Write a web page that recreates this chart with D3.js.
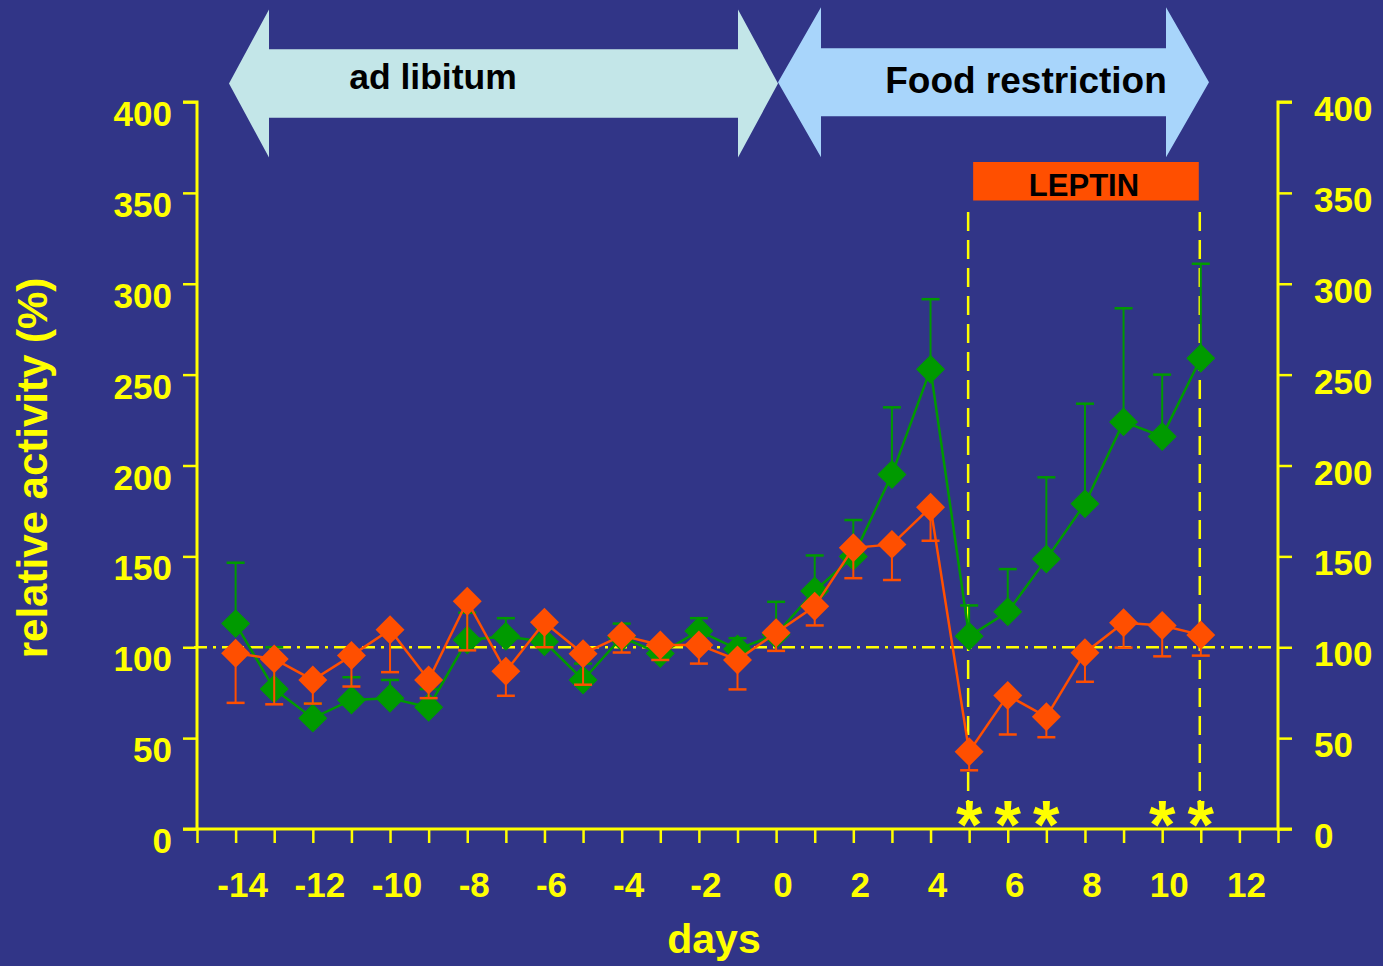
<!DOCTYPE html>
<html>
<head>
<meta charset="utf-8">
<script src="https://cdn.jsdelivr.net/npm/d3@7/dist/d3.min.js"></script>
<style>
  html, body { margin: 0; padding: 0; background: #313587; }
  svg { display: block; }
  text { font-family: "Liberation Sans", Arial, Helvetica, sans-serif; font-weight: bold; }
</style>
</head>
<body>
<svg id="chart" width="1383" height="966"></svg>
<script>
// Daily activity relative to baseline (%), mean and SEM per day
const days = [-14, -13, -12, -11, -10, -9, -8, -7, -6, -5, -4, -3, -2, -1,
              0, 1, 2, 3, 4, 5, 6, 7, 8, 9, 10, 11];

const vehicleMean = [113, 77, 61, 71, 72, 67, 104, 106, 103, 82, 105.5, 96.5, 109, 99,
                     107, 131, 150, 195, 253, 106, 119.5, 148.5, 179, 224, 216, 259];
const vehicleSem  = [33.5, 23, 8, 12.5, 10, 10, 15, 10, 7, 9, 7.5, 4, 7, 6,
                     18, 19.5, 20, 37, 38.5, 17, 23.5, 45, 55, 62.5, 34, 52];

const leptinMean = [96.7, 93.6, 82, 95.4, 109.6, 82, 125.3, 86.8, 113.7, 96.4, 106.4, 101.3, 101.3, 93,
                    108, 122.5, 154.7, 156.6, 177, 42.5, 73.5, 61.7, 97, 113.5, 112, 106.8];
const leptinSem  = [27.3, 25, 13, 17, 23.3, 10, 27, 13.5, 13.7, 17, 9.3, 8.3, 10.3, 16.2,
                    10, 10.5, 16.7, 19.6, 18.4, 10.2, 21.5, 11.2, 16, 13.7, 17, 11.4];

const yTicks = [0, 50, 100, 150, 200, 250, 300, 350, 400];
const xTickLabels = [-14, -12, -10, -8, -6, -4, -2, 0, 2, 4, 6, 8, 10, 12];
const significantDays = [5, 6, 7, 10, 11];
const leptinWindow = [5, 11];
const baselineLevel = 100;

const YELLOW = "#ffff00";
const GREEN = "#009a00";
const ORANGE = "#ff4f00";

const svg = d3.select("#chart");

const x = d3.scaleLinear().domain([-15, 13]).range([197, 1278]);
const y = d3.scaleLinear().domain([0, 400]).range([829, 102]);

// ---- phase arrows -------------------------------------------------------
function doubleArrow(x0, x1, headLen, cy, shaftHalf, headHalf) {
  return [
    [x0, cy], [x0 + headLen, cy - headHalf], [x0 + headLen, cy - shaftHalf],
    [x1 - headLen, cy - shaftHalf], [x1 - headLen, cy - headHalf], [x1, cy],
    [x1 - headLen, cy + headHalf], [x1 - headLen, cy + shaftHalf],
    [x0 + headLen, cy + shaftHalf], [x0 + headLen, cy + headHalf]
  ];
}
svg.append("polygon")
  .attr("points", doubleArrow(229, 778, 40, 83.5, 34.2, 74).join(" "))
  .attr("fill", "#c3e6e8");
svg.append("polygon")
  .attr("points", doubleArrow(778, 1209, 43, 82.2, 34, 75).join(" "))
  .attr("fill", "#a8d5fb");

svg.append("text").attr("x", 433).attr("y", 89).attr("text-anchor", "middle")
  .attr("font-size", 35.5).attr("fill", "#000").text("ad libitum");
svg.append("text").attr("x", 1026).attr("y", 93).attr("text-anchor", "middle")
  .attr("font-size", 37).attr("fill", "#000").text("Food restriction");

// ---- leptin treatment bar ----------------------------------------------
svg.append("rect")
  .attr("x", x(leptinWindow[0]) + 4).attr("y", 162)
  .attr("width", x(leptinWindow[1]) - x(leptinWindow[0]) - 6).attr("height", 38.5)
  .attr("fill", ORANGE);
svg.append("text")
  .attr("x", (x(leptinWindow[0]) + x(leptinWindow[1])) / 2 - 1).attr("y", 196)
  .attr("text-anchor", "middle").attr("font-size", 31).attr("fill", "#000")
  .text("LEPTIN");

// ---- axes ---------------------------------------------------------------
const axisG = svg.append("g");

const xAxis = d3.axisBottom(x).tickValues(d3.range(-15, 14)).tickSize(14).tickFormat("");
const xg = axisG.append("g").attr("transform", `translate(0,${y(0)})`).call(xAxis);

const yLeft = d3.axisLeft(y).tickValues(yTicks).tickSize(14).tickFormat("");
const yl = axisG.append("g").attr("transform", `translate(${x(-15)},0)`).call(yLeft);

const yRight = d3.axisRight(y).tickValues(yTicks).tickSize(14).tickFormat("");
const yr = axisG.append("g").attr("transform", `translate(${x(13)},0)`).call(yRight);

[xg, yl, yr].forEach(g => {
  g.select(".domain").attr("stroke", YELLOW).attr("stroke-width", 3);
  g.selectAll(".tick line").attr("stroke", YELLOW).attr("stroke-width", 2.5);
});
yl.select(".domain").attr("d", `M-14,${y(400)}H0V${y(0)}H-14`);
yr.select(".domain").attr("d", `M14,${y(400)}H0V${y(0)}H14`);
xg.select(".domain").attr("d", `M0,0H${x(13) - x(-15)}`).attr("transform", `translate(${x(-15)},0)`);

// tick labels
svg.append("g").selectAll("text").data(yTicks).join("text")
  .attr("x", 172).attr("y", d => y(d) + 24).attr("text-anchor", "end")
  .attr("font-size", 35).attr("fill", YELLOW).text(d => d);
svg.append("g").selectAll("text").data(yTicks).join("text")
  .attr("x", 1314).attr("y", d => y(d) + 19).attr("text-anchor", "start")
  .attr("font-size", 35).attr("fill", YELLOW).text(d => d);
svg.append("g").selectAll("text").data(xTickLabels).join("text")
  .attr("x", d => x(d) + 7).attr("y", 897).attr("text-anchor", "middle")
  .attr("font-size", 35).attr("fill", YELLOW).text(d => d);

svg.append("text").attr("x", 714).attr("y", 953).attr("text-anchor", "middle")
  .attr("font-size", 41).attr("fill", YELLOW).text("days");
svg.append("text").attr("transform", "translate(47,468) rotate(-90)")
  .attr("text-anchor", "middle").attr("font-size", 42).attr("fill", YELLOW)
  .text("relative activity (%)");

// ---- reference lines ----------------------------------------------------
svg.append("line")
  .attr("x1", x(-15) - 3).attr("x2", x(13)).attr("y1", y(baselineLevel)).attr("y2", y(baselineLevel))
  .attr("stroke", YELLOW).attr("stroke-width", 2.5).attr("stroke-dasharray", "13,6,3,6");

svg.append("g").selectAll("line").data(leptinWindow).join("line")
  .attr("x1", d => x(d) - 1).attr("x2", d => x(d) - 1)
  .attr("y1", 212).attr("y2", y(0))
  .attr("stroke", YELLOW).attr("stroke-width", 2.5).attr("stroke-dasharray", "19,9");

// ---- series -------------------------------------------------------------
function drawSeries(mean, sem, color, direction) {
  const pts = days.map((d, i) => ({ d, m: mean[i], e: sem[i] }));
  const g = svg.append("g");
  // error bars (one-sided)
  g.selectAll("line.err").data(pts).join("line").attr("class", "err")
    .attr("x1", p => x(p.d)).attr("x2", p => x(p.d))
    .attr("y1", p => y(p.m)).attr("y2", p => y(p.m + direction * p.e))
    .attr("stroke", color).attr("stroke-width", 2);
  g.selectAll("line.cap").data(pts).join("line").attr("class", "cap")
    .attr("x1", p => x(p.d) - 9).attr("x2", p => x(p.d) + 9)
    .attr("y1", p => y(p.m + direction * p.e)).attr("y2", p => y(p.m + direction * p.e))
    .attr("stroke", color).attr("stroke-width", 2.5);
  // connecting line
  g.append("path").datum(pts)
    .attr("d", d3.line().x(p => x(p.d)).y(p => y(p.m)))
    .attr("fill", "none").attr("stroke", color).attr("stroke-width", 2.5);
  // diamond markers
  g.selectAll("path.mk").data(pts).join("path").attr("class", "mk")
    .attr("d", d3.symbol().type(d3.symbolSquare).size(420))
    .attr("transform", p => `translate(${x(p.d)},${y(p.m)}) rotate(45)`)
    .attr("fill", color);
}
drawSeries(vehicleMean, vehicleSem, GREEN, +1);
drawSeries(leptinMean, leptinSem, ORANGE, -1);

// ---- significance marks -------------------------------------------------
svg.append("g").selectAll("text").data(significantDays).join("text")
  .attr("x", d => x(d)).attr("y", 848).attr("text-anchor", "middle")
  .attr("font-size", 68).attr("fill", YELLOW).text("*");
</script>
</body>
</html>
